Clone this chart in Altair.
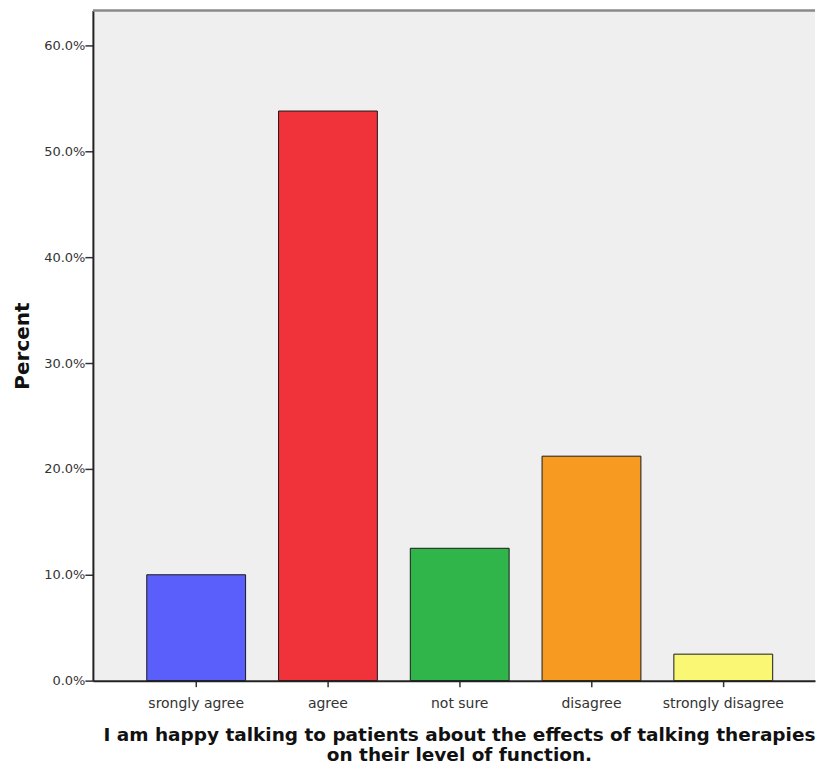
import altair as alt
import pandas as pd

categories = ["srongly agree", "agree", "not sure", "disagree", "strongly disagree"]
percents = [10.0, 53.8, 12.5, 21.2, 2.5]
colors = ["#5a5ffc", "#f0323a", "#2fb54a", "#f79a22", "#f9f774"]
y_ticks = [0, 10, 20, 30, 40, 50, 60]

df = pd.DataFrame({"cat": categories, "pct": percents})
W, H = 723, 671

bars = alt.Chart(df).mark_bar(stroke="#1a1a1a", strokeWidth=1).encode(
    x=alt.X("cat:N", sort=categories,
            scale=alt.Scale(paddingInner=0.25, paddingOuter=0.365, align=0.56),
            axis=alt.Axis(
                title=["I am happy talking to patients about the effects of talking therapies",
                       "on their level of function."],
                labelAngle=0, labelFont="DejaVu Sans", labelFontSize=14, labelColor="#333333",
                labelPadding=10, tickSize=6, tickColor="#333333", tickWidth=1.5,
                domainColor="#222222", domainWidth=2,
                titleFont="DejaVu Sans", titleFontSize=18.5, titleFontWeight="bold",
                titleColor="#111111", titlePadding=15, titleLineHeight=20,
                titleX=W / 2 + 5)),
    y=alt.Y("pct:Q",
            scale=alt.Scale(domain=[0, 63.3], nice=False, zero=True),
            axis=alt.Axis(
                title="Percent", values=y_ticks,
                labelExpr="format(datum.value, '.1f') + '%'",
                labelFont="DejaVu Sans", labelFontSize=13, labelColor="#333333",
                labelPadding=0, tickSize=8, tickColor="#333333", tickWidth=1.5,
                domainColor="#222222", domainWidth=2,
                grid=False, titleFont="DejaVu Sans", titleFontSize=20, titleFontWeight="bold",
                titleColor="#111111", titlePadding=11)),
    color=alt.Color("cat:N", sort=categories,
                    scale=alt.Scale(domain=categories, range=colors), legend=None),
)

top_border = alt.Chart(pd.DataFrame({"k": [0]})).mark_rule(
    color="#8a8a8a", strokeWidth=2.5
).encode(x=alt.value(0), x2=alt.value(W), y=alt.value(0))

chart = alt.layer(bars, top_border).properties(
    width=W, height=H, background="white",
    padding={"left": 4, "top": 0, "right": 0, "bottom": 0},
).configure_view(fill="#efefef", stroke="transparent", strokeWidth=0)

chart.save("out.html", embed_options={"renderer": "svg", "actions": False})
